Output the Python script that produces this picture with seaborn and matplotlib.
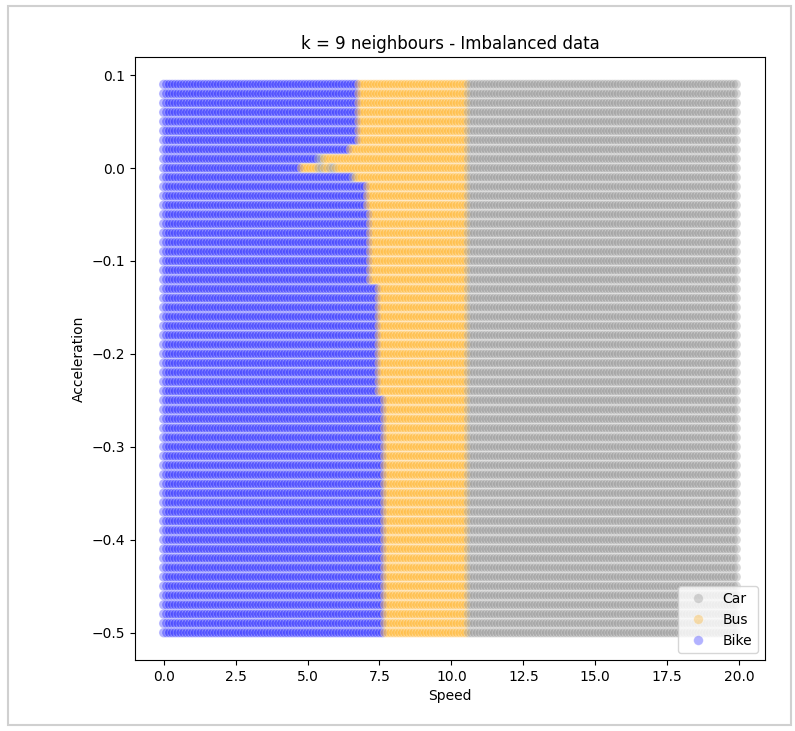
import numpy as np
import pandas as pd
import matplotlib
matplotlib.use('Agg')
import matplotlib.pyplot as plt
import seaborn as sns
from matplotlib.patches import Rectangle

# grid used for the decision map
speed_grid = np.round(np.arange(0, 20, 0.1), 2)
accel_rows = np.round(np.arange(0.09, -0.505, -0.01), 2)

# last speed still predicted as Bike, one value per row (top row first)
bike_end = [6.75, 6.75, 6.75, 6.75, 6.75, 6.75, 6.75,
            6.45, 5.35, 4.75, 6.55,
            7.05, 7.05, 7.05,
            7.15, 7.15, 7.15, 7.15, 7.15, 7.15, 7.15, 7.15,
            7.45, 7.45, 7.45, 7.45, 7.45, 7.45, 7.45, 7.45, 7.45, 7.45, 7.45, 7.45,
            7.65, 7.65, 7.65, 7.65, 7.65, 7.65, 7.65, 7.65, 7.65, 7.65, 7.65, 7.65, 7.65,
            7.65, 7.65, 7.65, 7.65, 7.65, 7.65, 7.65, 7.65, 7.65, 7.65, 7.65, 7.65, 7.65]
bus_end = 10.55

# odd Car predictions near the bike/bus border
car_spots_speed = [5.4, 5.5, 5.4, 5.5, 5.8, 5.9, 6.6]
car_spots_accel = [0.01, 0.01, 0.0, 0.0, 0.0, 0.0, -0.01]

classes = ['Car', 'Bus', 'Bike']
colors = {'Car': 'grey', 'Bus': 'orange', 'Bike': 'blue'}

rows = []
for a, b_end in zip(accel_rows, bike_end):
    for s in speed_grid:
        if s < b_end:
            lab = 'Bike'
        elif s < bus_end:
            lab = 'Bus'
        else:
            lab = 'Car'
        rows.append((s, a, lab))
df = pd.DataFrame(rows, columns=['Speed', 'Acceleration', 'Label'])
for s, a in zip(car_spots_speed, car_spots_accel):
    mask = np.isclose(df['Speed'], s) & np.isclose(df['Acceleration'], a)
    df.loc[mask, 'Label'] = 'Car'

fig = plt.figure(figsize=(7.95, 7.31), dpi=100)
ax = fig.add_axes([0.170, 0.097, 0.792, 0.825])
sns.scatterplot(data=df, x='Speed', y='Acceleration', hue='Label',
                hue_order=classes, palette=colors, alpha=0.3, s=48, ax=ax)
ax.legend(loc='lower right')
ax.set_title('k = 9 neighbours - Imbalanced data')

# screenshot frame
fig.patches.append(Rectangle((0.01, 0.008), 0.985, 0.984, transform=fig.transFigure,
                             fill=False, edgecolor='#d0d0d0', linewidth=1.5))

fig.savefig('out.png', dpi=100)
